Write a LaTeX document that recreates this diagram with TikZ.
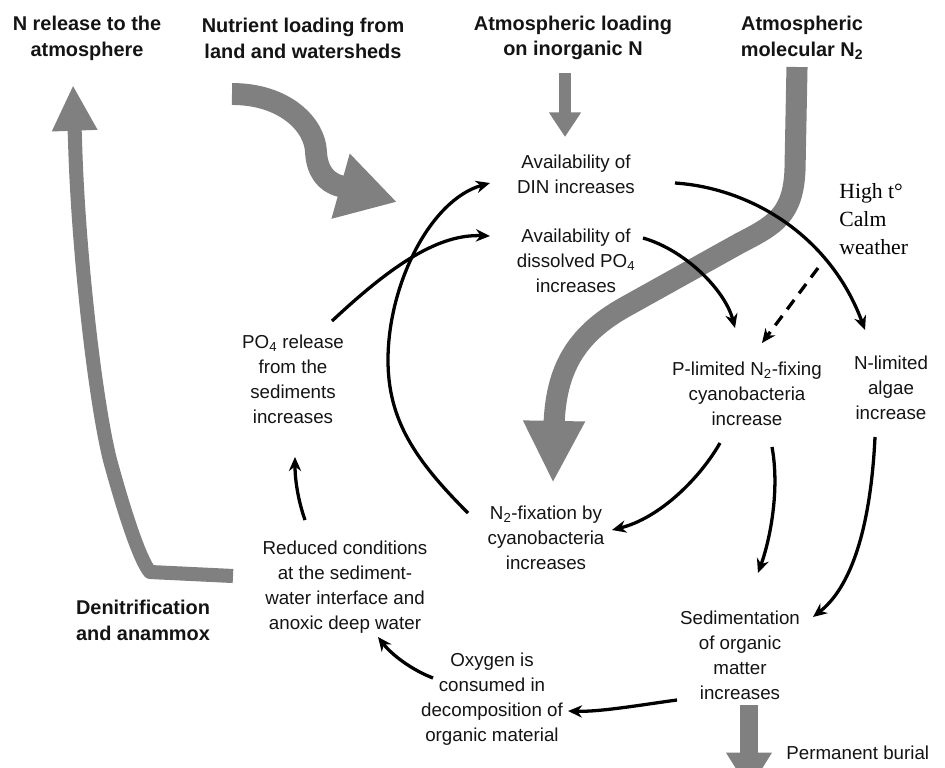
\documentclass[tikz,border=0pt]{standalone}
\usepackage{fontspec}
\setmainfont{Liberation Sans}
\newfontfamily\wxserif{Liberation Serif}
\usepackage{xcolor}
\usepackage{tikz}
\usetikzlibrary{arrows.meta}
\usetikzlibrary{calc}

\definecolor{flowgrey}{RGB}{128,128,128}
\definecolor{inkcol}{RGB}{20,20,20}

\newcommand{\bodyfont}{\fontsize{16}{21.25}\selectfont}
\newcommand{\headfont}{\fontsize{17}{22}\selectfont\bfseries}
\newcommand{\wxfont}{\wxserif\fontsize{18.5}{24}\selectfont}

\tikzset{
    head/.style={align=center, font=\headfont, inner sep=1pt, text=inkcol},
    txt/.style={align=center, font=\bodyfont, inner sep=1pt, text=inkcol},
    flow/.style={line width=2.8pt, draw=black, -{Stealth[length=12pt,width=10.5pt]}},
    hint/.style={flow, dash pattern=on 10pt off 7pt},
    bigflow/.style={draw=flowgrey, line join=round}
}

\begin{document}
\begin{tikzpicture}[x=0.3mm, y=-0.3mm]
                \fill[white] (0,0) rectangle (945,768);
                \useasboundingbox (0,0) rectangle (945,768);
                \clip (0,0) rectangle (945,768);

                % sources at the top
                \node[head] (nrel) at (87,38) {N release to the\\atmosphere};
                \node[head] (nutr) at (303,38) {Nutrient loading from\\land and watersheds};
                \node[head] (atmin) at (573,38) {Atmospheric loading\\on inorganic N};
                \node[head] (atmn2) at (802,38) {Atmospheric\\molecular N\textsubscript{2}};

                % the cycle
                \node[txt] (din) at (576,174) {Availability of\\DIN increases};
                \node[txt] (dpo) at (576,261) {Availability of\\dissolved PO\textsubscript{4}\\increases};
                \node[txt] (porel) at (293,379) {PO\textsubscript{4} release\\from the\\sediments\\increases};
                \node[font=\wxfont, align=left, anchor=west, inner sep=1pt] (weather) at (838,219) {High t°\\Calm\\weather};
                \node[txt] (pcyano) at (747,394) {P-limited N\textsubscript{2}-fixing\\cyanobacteria\\increase};
                \node[txt] (nalgae) at (891,388) {N-limited\\algae\\increase};
                \node[txt] (nfix) at (546,538) {N\textsubscript{2}-fixation by\\cyanobacteria\\increases};
                \node[txt] (reduced) at (345,587) {Reduced conditions\\at the sediment-\\water interface and\\anoxic deep water};
                \node[head] (denit) at (143,620) {Denitrification\\and anammox};
                \node[txt] (sedim) at (740,655) {Sedimentation\\of organic\\matter\\increases};
                \node[txt] (oxygen) at (492,699) {Oxygen is\\consumed in\\decomposition of\\organic material};
                \node[txt, anchor=west] (burial) at (785,753) {Permanent burial};

                % grey fluxes
                \draw[bigflow, line width=18.7pt, -{Triangle[length=50pt,width=54pt]}]
                    ($(nutr)+(-71,56)$) .. controls (285,94) and (315,125) .. (316,152)
                    .. controls (317,170) and (325,182) .. (340,186) -- (397,202);
                \draw[bigflow, line width=11pt, -{Triangle[length=21pt,width=26pt]}]
                    ($(atmin)+(-8,35)$) -- ($(atmin)+(-8,99)$);
                \draw[bigflow, line width=18pt, -{Triangle[length=53pt,width=49pt]}]
                    ($(atmn2)+(-5,29)$) -- (795,170) .. controls (793,215) and (775,225) .. (740,243)
                    -- (625,307) .. controls (575,335) and (556,370) .. (554,425) -- (553,483);
                \draw[bigflow, line width=12pt, -{Triangle[length=39pt,width=36pt]}]
                    ($(denit)+(90,-44)$) -- (150,572) .. controls (140,560) and (125,515) .. (110,460)
                    .. controls (95,400) and (78,250) .. (75,140) -- ($(nrel)+(-14,47)$);
                \draw[bigflow, line width=15pt, -{Triangle[length=32pt,width=37pt]}]
                    ($(sedim)+(9,50)$) -- ($(sedim)+(9,135)$);

                % black links
                \draw[flow] ($(porel)+(39,-58)$) .. controls (395,262) and (440,234) .. ($(dpo)+(-86,-25)$);
                \draw[flow] ($(nfix)+(-78,-25)$) .. controls (415,460) and (388,420) .. (388,360)
                    .. controls (388,285) and (430,200) .. ($(din)+(-86,9)$);
                \draw[flow] ($(din)+(99,9)$) .. controls (750,188) and (830,235) .. ($(nalgae)+(-26,-58)$);
                \draw[flow] ($(dpo)+(67,-23)$) .. controls (685,250) and (725,290) .. ($(pcyano)+(-12,-66)$);
                \draw[hint] ($(weather.west)+(-20,49)$) -- ($(pcyano)+(15,-51)$);
                \draw[flow] ($(pcyano)+(-27,49)$) .. controls (700,478) and (660,518) .. ($(nfix)+(66,-8)$);
                \draw[flow] ($(pcyano)+(25,53)$) .. controls (780,490) and (770,540) .. ($(sedim)+(18,-82)$);
                \draw[flow] ($(nalgae)+(-16,49)$) .. controls (872,500) and (860,580) .. ($(sedim)+(73,-38)$);
                \draw[flow] ($(sedim)+(-63,45)$) .. controls (640,705) and (600,712) .. ($(oxygen)+(76,12)$);
                \draw[flow] ($(oxygen)+(-59,-21)$) .. controls (412,670) and (392,655) .. ($(reduced)+(33,50)$);
                \draw[flow] ($(reduced)+(-40,-67)$) .. controls (298,500) and (295,480) .. ($(porel)+(2,78)$);
\end{tikzpicture}
\end{document}
